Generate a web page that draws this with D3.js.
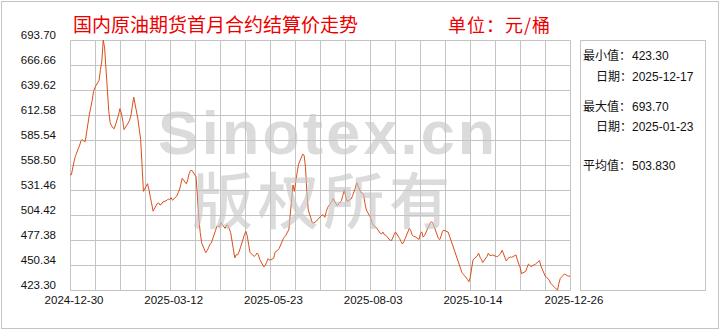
<!DOCTYPE html>
<html>
<head>
<meta charset="utf-8">
<script src="https://cdn.jsdelivr.net/npm/d3@7"></script>
<style>
  body { margin: 0; background: #fff; }
  svg { display: block; }
</style>
</head>
<body>
<svg id="chart"></svg>
<script>
// settlement dates (trading days) and prices
const dates = [
  "2024-12-30","2024-12-31",
  "2025-01-02","2025-01-03","2025-01-06","2025-01-07","2025-01-08","2025-01-09","2025-01-10","2025-01-13","2025-01-14","2025-01-15","2025-01-16","2025-01-17","2025-01-20","2025-01-21","2025-01-22","2025-01-23","2025-01-24","2025-01-27","2025-01-28","2025-01-29","2025-01-30","2025-01-31",
  "2025-02-03","2025-02-04","2025-02-05","2025-02-06","2025-02-07","2025-02-10","2025-02-11","2025-02-12","2025-02-13","2025-02-14","2025-02-17","2025-02-18","2025-02-19","2025-02-20","2025-02-21","2025-02-24","2025-02-25","2025-02-26","2025-02-27","2025-02-28",
  "2025-03-03","2025-03-04","2025-03-05","2025-03-06","2025-03-07","2025-03-10","2025-03-11","2025-03-12","2025-03-13","2025-03-14","2025-03-17","2025-03-18","2025-03-19","2025-03-20","2025-03-21","2025-03-24","2025-03-25","2025-03-26","2025-03-27","2025-03-28","2025-03-31",
  "2025-04-01","2025-04-02","2025-04-03","2025-04-04","2025-04-07","2025-04-08","2025-04-09","2025-04-10","2025-04-11","2025-04-14","2025-04-15","2025-04-16","2025-04-17","2025-04-18","2025-04-21","2025-04-22","2025-04-23","2025-04-24","2025-04-25","2025-04-28","2025-04-29","2025-04-30",
  "2025-05-01","2025-05-02","2025-05-05","2025-05-06","2025-05-07","2025-05-08","2025-05-09","2025-05-12","2025-05-13","2025-05-14","2025-05-15","2025-05-16","2025-05-19","2025-05-20","2025-05-21","2025-05-22","2025-05-23","2025-05-26","2025-05-27","2025-05-28","2025-05-29","2025-05-30",
  "2025-06-02","2025-06-03","2025-06-04","2025-06-05","2025-06-06","2025-06-09","2025-06-10","2025-06-11","2025-06-12","2025-06-13","2025-06-16","2025-06-17","2025-06-18","2025-06-19","2025-06-20","2025-06-23","2025-06-24","2025-06-25","2025-06-26","2025-06-27","2025-06-30",
  "2025-07-01","2025-07-02","2025-07-03","2025-07-04","2025-07-07","2025-07-08","2025-07-09","2025-07-10","2025-07-11","2025-07-14","2025-07-15","2025-07-16","2025-07-17","2025-07-18","2025-07-21","2025-07-22","2025-07-23","2025-07-24","2025-07-25","2025-07-28","2025-07-29","2025-07-30","2025-07-31",
  "2025-08-01","2025-08-04","2025-08-05","2025-08-06","2025-08-07","2025-08-08","2025-08-11","2025-08-12","2025-08-13","2025-08-14","2025-08-15","2025-08-18","2025-08-19","2025-08-20","2025-08-21","2025-08-22","2025-08-25","2025-08-26","2025-08-27","2025-08-28","2025-08-29",
  "2025-09-01","2025-09-02","2025-09-03","2025-09-04","2025-09-05","2025-09-08","2025-09-09","2025-09-10","2025-09-11","2025-09-12","2025-09-15","2025-09-16","2025-09-17","2025-09-18","2025-09-19","2025-09-22","2025-09-23","2025-09-24","2025-09-25","2025-09-26","2025-09-29","2025-09-30",
  "2025-10-09","2025-10-10","2025-10-13","2025-10-14","2025-10-15","2025-10-16","2025-10-17","2025-10-20","2025-10-21","2025-10-22","2025-10-23","2025-10-24","2025-10-27","2025-10-28","2025-10-29","2025-10-30","2025-10-31",
  "2025-11-03","2025-11-04","2025-11-05","2025-11-06","2025-11-07","2025-11-10","2025-11-11","2025-11-12","2025-11-13","2025-11-14","2025-11-17","2025-11-18","2025-11-19","2025-11-20","2025-11-21","2025-11-24","2025-11-25","2025-11-26","2025-11-27","2025-11-28",
  "2025-12-01","2025-12-02","2025-12-03","2025-12-04","2025-12-05","2025-12-08","2025-12-09","2025-12-10","2025-12-11","2025-12-12","2025-12-15","2025-12-16","2025-12-17","2025-12-18","2025-12-19","2025-12-22","2025-12-23","2025-12-24","2025-12-25","2025-12-26"
];
const prices = [
  548.0,548.0,
  562.6,568.6,580.0,584.9,586.0,584.1,584.1,613.3,620.7,628.3,638.0,642.3,650.1,661.7,670.9,693.7,685.0,616.7,604.3,600.9,598.6,597.9,
  612.4,619.4,615.1,607.3,596.7,603.9,607.0,612.2,621.9,632.0,608.6,597.3,586.3,558.9,530.0,538.3,531.8,523.7,516.4,508.5,
  517.0,517.5,515.2,516.0,518.5,520.3,521.8,521.1,523.2,520.4,524.6,528.3,531.3,537.6,544.1,538.1,542.6,549.2,552.4,552.7,545.9,
  524.6,501.5,485.7,474.5,463.7,465.8,468.9,472.7,474.1,487.3,492.1,492.2,491.8,496.0,490.0,493.6,493.1,489.6,485.3,458.0,461.5,461.2,
  464.4,468.9,483.5,486.8,481.5,472.3,463.8,459.7,460.8,463.3,461.5,456.3,448.2,450.0,453.4,457.2,455.5,457.4,463.6,465.5,466.4,468.1,
  478.8,481.0,482.8,486.0,488.4,536.9,530.0,540.8,550.2,559.2,570.2,569.1,556.7,529.7,510.0,495.8,495.8,496.9,497.9,499.7,504.5,
  504.4,501.9,508.0,512.5,518.8,522.4,519.6,516.5,514.5,519.9,525.5,531.8,525.0,519.2,521.7,525.2,529.3,533.4,539.5,528.6,528.2,526.4,516.7,
  509.7,501.6,496.1,493.0,492.2,491.1,484.6,483.9,485.9,483.1,482.6,477.2,476.8,479.5,483.3,486.0,479.0,475.8,473.1,475.4,479.0,
  490.0,487.7,483.0,481.4,481.1,478.0,484.2,486.2,480.5,482.3,492.2,495.6,497.2,495.6,491.6,478.9,477.8,482.1,486.9,487.9,485.9,481.7,
  442.2,440.3,434.7,432.2,437.0,447.1,456.1,460.1,463.2,458.9,456.5,453.0,459.5,463.0,460.8,460.6,461.2,
  459.4,459.7,461.3,463.0,466.3,454.7,457.0,458.3,459.1,458.6,461.3,455.9,451.4,447.8,441.0,443.5,447.5,451.3,449.8,448.7,
  451.2,452.4,454.1,455.0,449.3,438.6,437.0,435.9,433.9,430.7,426.0,424.5,423.3,430.5,435.9,440.6,439.9,438.8,438.3,438.1
];

const yTicks = [693.70, 666.66, 639.62, 612.58, 585.54, 558.50, 531.46, 504.42, 477.38, 450.34, 423.30];
const xTickLabels = ["2024-12-30", "2025-03-12", "2025-05-23", "2025-08-03", "2025-10-14", "2025-12-26"];

const title = "国内原油期货首月合约结算价走势";
const unitText = "单位：元/桶";
const statNames = ["最小值：", "日期：", "最大值：", "日期：", "平均值："];
const statValues = ["423.30", "2025-12-17", "693.70", "2025-01-23", "503.830"];

const WIDTH = 720, HEIGHT = 330;
const margin = {top: 40, right: 150, bottom: 40, left: 70},
    width = WIDTH - margin.left - margin.right,
    height = HEIGHT - margin.top - margin.bottom;
const gridColor = '#c4c4c4';
const latin = '"Liberation Sans", Arial, sans-serif';
const cjk = '"Noto Sans CJK SC", "Noto Sans", sans-serif';

const parse = d3.timeParse('%Y-%m-%d');
const data = dates.map((d, i) => ({date: parse(d), price: prices[i]}));

const svg = d3.select('#chart')
    .attr('width', WIDTH)
    .attr('height', HEIGHT)
    .attr('viewBox', [0, 0, WIDTH, HEIGHT]);

// outer frame
svg.append('rect')
    .attr('x', 1.5).attr('y', 1.5)
    .attr('width', WIDTH - 3).attr('height', HEIGHT - 3)
    .attr('fill', 'none')
    .attr('stroke', gridColor);

const x = d3.scaleTime()
    .domain([parse(xTickLabels[0]), parse(xTickLabels[xTickLabels.length - 1])])
    .range([0, width]);
const y = d3.scaleLinear()
    .domain([yTicks[yTicks.length - 1], yTicks[0]])
    .range([height, 0]);
// 20 equal columns in the grid
const col = d3.scaleLinear().domain([0, 20]).range([0, width]);

const g = svg.append('g')
    .attr('transform', `translate(${margin.left},${margin.top})`);

// grid
const grid = g.append('g').attr('transform', 'translate(0.5,0.5)')
    .attr('stroke', gridColor).attr('stroke-width', 1);
grid.selectAll('line.v')
    .data(d3.range(21))
    .join('line')
    .attr('class', 'v')
    .attr('x1', d => Math.round(col(d))).attr('x2', d => Math.round(col(d)))
    .attr('y1', 0).attr('y2', height);
grid.selectAll('line.h')
    .data(yTicks)
    .join('line')
    .attr('class', 'h')
    .attr('x1', 0).attr('x2', width)
    .attr('y1', d => Math.round(y(d))).attr('y2', d => Math.round(y(d)));

// Y labels
g.append('g')
    .selectAll('text')
    .data(yTicks)
    .join('text')
    .attr('x', -14)
    .attr('y', d => y(d) - 1)
    .attr('text-anchor', 'end')
    .attr('font-family', latin)
    .attr('font-size', 11.5)
    .attr('fill', '#111')
    .text(d => d.toFixed(2));

// X labels
g.append('g')
    .selectAll('text')
    .data(xTickLabels)
    .join('text')
    .attr('x', d => x(parse(d)) + 4)
    .attr('y', height + 14)
    .attr('text-anchor', 'middle')
    .attr('font-family', latin)
    .attr('font-size', 11.5)
    .attr('fill', '#111')
    .text(d => d);

// watermark
const wm = svg.append('g').attr('fill', '#c6c6c6').attr('opacity', 0.62);
wm.append('text')
    .attr('x', 158).attr('y', 154)
    .attr('font-family', '"Liberation Sans", Arial, sans-serif')
    .attr('font-weight', 'bold')
    .attr('font-size', 61)
    .attr('textLength', 337)
    .attr('lengthAdjust', 'spacing')
    .text('Sinotex.cn');
wm.append('text')
    .attr('x', 192).attr('y', 224)
    .attr('font-family', cjk)
    .attr('font-weight', 500)
    .attr('font-size', 61)
    .attr('textLength', 258)
    .attr('lengthAdjust', 'spacing')
    .text('版权所有');

// price line
const line = d3.line()
    .x(d => x(d.date))
    .y(d => y(d.price));
g.append('path')
    .datum(data)
    .attr('fill', 'none')
    .attr('stroke', '#dc4e1a')
    .attr('stroke-width', 1)
    .attr('stroke-linejoin', 'round')
    .attr('d', line);

// title + unit
svg.append('text')
    .attr('x', 73).attr('y', 31.5)
    .attr('font-family', cjk)
    .attr('font-size', 19)
    .attr('fill', '#ee0000')
    .text(title);
svg.append('text')
    .attr('x', 448).attr('y', 31.5)
    .attr('font-family', cjk)
    .attr('font-size', 18)
    .attr('letter-spacing', 1)
    .attr('fill', '#ee0000')
    .text(unitText);

// statistics panel
svg.append('rect')
    .attr('x', 580.5).attr('y', 40.5)
    .attr('width', 125).attr('height', height)
    .attr('fill', 'none')
    .attr('stroke', gridColor);
const statY = [60, 80.5, 110.5, 130.5, 170];
const stats = svg.append('g')
    .attr('font-size', 12)
    .attr('fill', '#111');
stats.selectAll('text.name')
    .data(statNames)
    .join('text')
    .attr('class', 'name')
    .attr('x', d => d.length === 3 ? 596 : 583)
    .attr('y', (d, i) => statY[i])
    .attr('font-family', cjk)
    .text(d => d);
stats.selectAll('text.val')
    .data(statValues)
    .join('text')
    .attr('class', 'val')
    .attr('x', 632)
    .attr('y', (d, i) => statY[i])
    .attr('font-family', latin)
    .text(d => d);
</script>
</body>
</html>
